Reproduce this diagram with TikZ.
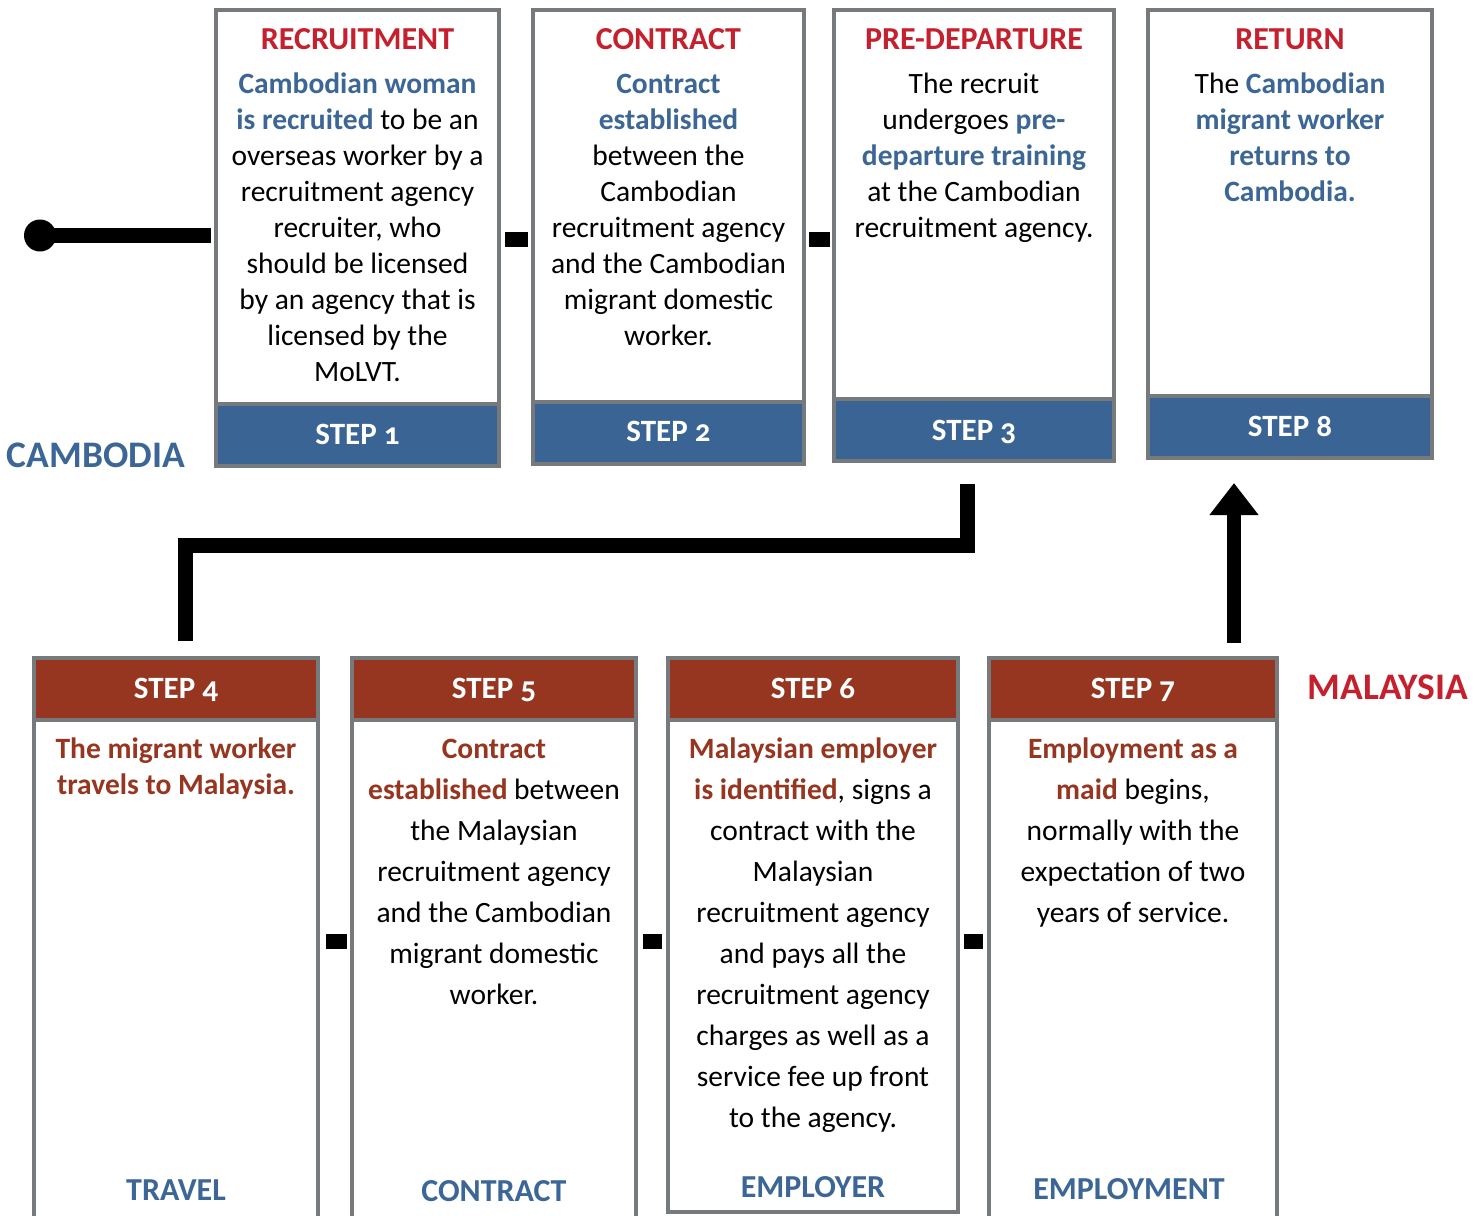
\documentclass[tikz,border=0pt]{standalone}
\usepackage{fontspec}
\setmainfont{Carlito}
\newfontfamily\stepfont{Carlito}[Numbers=OldStyle]
\usetikzlibrary{arrows.meta,calc}
\definecolor{titlered}{RGB}{196,32,46}
\definecolor{textblue}{RGB}{59,102,150}
\definecolor{bandblue}{RGB}{57,100,147}
\definecolor{brownc}{RGB}{150,54,32}
\definecolor{bordergray}{RGB}{119,122,125}
\newcommand\hl[1]{\textcolor{textblue}{\bfseries #1}}
\newcommand\hb[1]{\textcolor{brownc}{\bfseries #1}}
\begin{document}
\begin{tikzpicture}[x=1pt,y=-1pt,
  box/.style={draw=bordergray, line width=4pt, fill=white, inner sep=0pt, outer sep=0pt, rectangle},
  sepline/.style={draw=bordergray, line width=4pt},
  title/.style={font=\fontsize{32}{36}\selectfont\bfseries, text=titlered, anchor=base, inner sep=0pt},
  body/.style={font=\fontsize{29.5}{36}\selectfont, align=center, anchor=north, inner sep=0pt},
  bodyw/.style={font=\fontsize{29.5}{41}\selectfont, align=center, anchor=north, inner sep=0pt},
  steplab/.style={font=\stepfont\fontsize{31}{36}\selectfont\bfseries, text=white, anchor=base, inner sep=0pt},
  country/.style={font=\fontsize{37.5}{40}\selectfont\bfseries, anchor=base, inner sep=0pt},
  foot/.style={font=\fontsize{32}{36}\selectfont\bfseries, text=textblue, anchor=base, inner sep=0pt},
  link/.style={line width=15pt, draw=black},
]
\clip (0,0) rectangle (1482,1215);

% ---------- top boxes ----------
\node[box, minimum width=283pt, minimum height=456pt] (b1) at (357.5,238) {};
\fill[bandblue] (218,406) rectangle (497,464);
\draw[sepline] (216,404) -- (499,404);
\node[box, minimum width=271pt, minimum height=454pt] (b2) at (668.5,237) {};
\fill[bandblue] (535,404) rectangle (802,462);
\draw[sepline] (533,402) -- (804,402);
\node[box, minimum width=280pt, minimum height=451pt] (b3) at (974,235.5) {};
\fill[bandblue] (836,401) rectangle (1112,459);
\draw[sepline] (834,399) -- (1114,399);
\node[box, minimum width=284pt, minimum height=448pt] (b8) at (1290,234) {};
\fill[bandblue] (1150,398) rectangle (1430,456);
\draw[sepline] (1148,396) -- (1432,396);

% ---------- bottom boxes ----------
\node[box, minimum width=284pt, minimum height=572pt] (b4) at (176,944) {};
\fill[brownc] (36,660) rectangle (316,718);
\draw[sepline] (34,720) -- (318,720);
\node[box, minimum width=284pt, minimum height=572pt] (b5) at (494,944) {};
\fill[brownc] (354,660) rectangle (634,718);
\draw[sepline] (352,720) -- (636,720);
\node[box, minimum width=290pt, minimum height=554pt] (b6) at (813,935) {};
\fill[brownc] (670,660) rectangle (956,718);
\draw[sepline] (668,720) -- (958,720);
\node[box, minimum width=288pt, minimum height=572pt] (b7) at (1133,944) {};
\fill[brownc] (991,660) rectangle (1275,718);
\draw[sepline] (989,720) -- (1277,720);

% ---------- top texts ----------
\node[title] (t1) at (357.5,50) {RECRUITMENT};
\node[title] (t2) at (668.5,50) {CONTRACT};
\node[title] (t3) at (974,50) {PRE-DEPARTURE};
\node[title] (t8) at (1290,50) {RETURN};

\node[body] (x1) at (357.5,67.8) {\strut\hl{Cambodian woman}\\ \hl{is recruited} to be an\\ overseas worker by a\\ recruitment agency\\ recruiter, who\\ should be licensed\\ by an agency that is\\ licensed by the\\ MoLVT.};
\node[body] (x2) at (668.5,67.8) {\strut\hl{Contract}\\ \hl{established}\\ between the\\ Cambodian\\ recruitment agency\\ and the Cambodian\\ migrant domestic\\ worker.};
\node[body] (x3) at (974,67.8) {\strut The recruit\\ undergoes \hl{pre-}\\ \hl{departure training}\\ at the Cambodian\\ recruitment agency.};
\node[body] (x8) at (1290,67.8) {\strut The \hl{Cambodian}\\ \hl{migrant worker}\\ \hl{returns to}\\ \hl{Cambodia.}};

\node[steplab] (s1) at (357.5,444) {STEP 1};
\node[steplab] (s2) at (668.5,441) {STEP 2};
\node[steplab] (s3) at (974,440) {STEP 3};
\node[steplab] (s8) at (1290,436) {STEP 8};

% ---------- bottom texts ----------
\node[steplab] (s4) at (176,698) {STEP 4};
\node[steplab] (s5) at (494,698) {STEP 5};
\node[steplab] (s6) at (813,698) {STEP 6};
\node[steplab] (s7) at (1133,698) {STEP 7};

\node[body] (x4) at (176,732.8) {\strut\hb{The migrant worker}\\ \hb{travels to Malaysia.}};
\node[bodyw] (x5) at (494,729.3) {\strut\hb{Contract}\\ \hb{established} between\\ the Malaysian\\ recruitment agency\\ and the Cambodian\\ migrant domestic\\ worker.};
\node[bodyw] (x6) at (813,729.3) {\strut\hb{Malaysian employer}\\ \hb{is identified}, signs a\\ contract with the\\ Malaysian\\ recruitment agency\\ and pays all the\\ recruitment agency\\ charges as well as a\\ service fee up front\\ to the agency.};
\node[bodyw] (x7) at (1133,729.3) {\strut\hb{Employment as a}\\ \hb{maid} begins,\\ normally with the\\ expectation of two\\ years of service.};

\node[foot] (f4) at (176,1200) {TRAVEL};
\node[foot] (f5) at (494,1201) {CONTRACT};
\node[foot] (f6) at (813,1197) {EMPLOYER};
\node[foot] (f7) at (1129,1199) {EMPLOYMENT};

% ---------- country labels ----------
\node[country, text=textblue] (cam) at (96,467) {CAMBODIA};
\node[country, text=titlered] (mal) at (1388,699) {MALAYSIA};

% ---------- connectors ----------
\coordinate (start) at (40,235.5);
\coordinate (ry) at (0,239.5);
\coordinate (ly) at (0,941.5);
\fill[black] (start) circle (16);
\draw[link, shorten >=5pt] (start) -- (start -| b1.west);
\draw[link, shorten <=6pt, shorten >=5pt] (b1.east |- ry) -- (b2.west |- ry);
\draw[link, shorten <=5pt, shorten >=4pt] (b2.east |- ry) -- (b3.west |- ry);
\draw[link, shorten <=8pt, shorten >=5pt] (b4.east |- ly) -- (b5.west |- ly);
\draw[link, shorten <=7pt, shorten >=6pt] (b5.east |- ly) -- (b6.west |- ly);
\draw[link, shorten <=6pt, shorten >=6pt] (b6.east |- ly) -- (b7.west |- ly);
\draw[link] ([xshift=-7pt,yshift=-23pt]b3.south) -- ++(0,61) -| ([xshift=9pt,yshift=17pt]b4.north);
\coordinate (a7) at ([xshift=101pt]b7.north);
\draw[link, line width=14pt, -{Triangle[width=47pt,length=32pt]}, shorten <=15pt, shorten >=25pt] (a7) -- (a7 |- b8.south);
\end{tikzpicture}
\end{document}
